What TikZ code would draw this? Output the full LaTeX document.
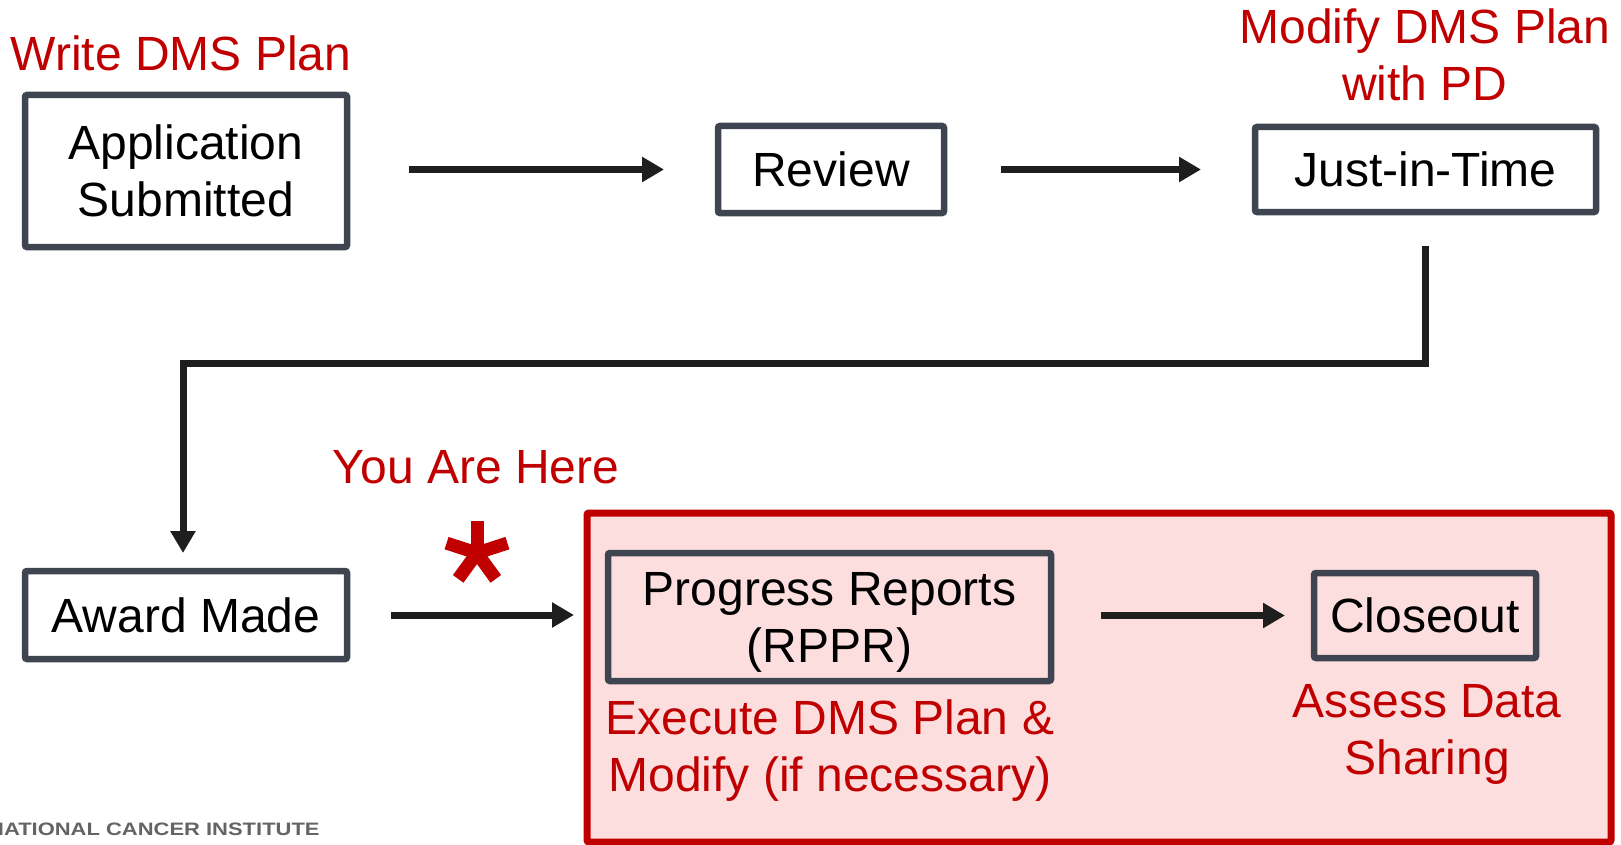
\documentclass[tikz,border=0pt]{standalone}
\usepackage{graphicx}
\usepackage{fontspec}
\setmainfont{Liberation Sans}
\usetikzlibrary{arrows.meta}
\definecolor{boxgray}{RGB}{62,69,81}
\definecolor{arrowblk}{RGB}{30,30,30}
\definecolor{dmsred}{RGB}{192,0,0}
\definecolor{pinkfill}{RGB}{253,222,222}
\definecolor{ncigray}{RGB}{100,100,100}
\begin{document}
\begin{tikzpicture}[x=1pt,y=-1pt,
  stepbox/.style={draw=boxgray, line width=6.5pt, rounded corners=2pt, inner sep=0pt, outer sep=0pt,
    font=\fontsize{48pt}{57pt}\selectfont, align=center, text=black},
  arr/.style={draw=arrowblk, line width=7pt, -{Triangle[length=22pt,width=24pt]}},
  redlbl/.style={text=dmsred, font=\fontsize{48pt}{57pt}\selectfont, align=center, inner sep=0pt},
]
\clip (0,0) rectangle (1621,845);
\fill[white] (0,0) rectangle (1621,845);

% highlighted region
\node[draw=dmsred, fill=pinkfill, line width=7pt, rounded corners=2pt, minimum width=1024pt,
  minimum height=329pt, inner sep=0pt, outer sep=0pt] (region) at (1099,677.5) {};

% boxes
\node[stepbox, minimum width=322pt, minimum height=152pt] (app) at (186,171) {Application\\Submitted};
\node[stepbox, minimum width=226pt, minimum height=87pt] (rev) at (831,169.5) {Review};
\node[stepbox, minimum width=341pt, minimum height=85pt] (jit) at (1425.5,169.5) {Just-in-Time};
\node[stepbox, minimum width=322pt, minimum height=88pt] (award) at (186,615) {Award Made};
\node[stepbox, fill=pinkfill, minimum width=443pt, minimum height=128pt] (prog) at (829.5,617) {\rule{0pt}{44pt}Progress Reports\\(RPPR)};
\node[stepbox, fill=pinkfill, minimum width=222pt, minimum height=85pt] (close) at (1425,615.5) {Closeout};

% connectors
\draw[arr, shorten <=62pt, shorten >=54pt] (app.east |- rev.west) -- (rev.west);
\draw[arr, shorten <=57pt, shorten >=54pt] (rev.east) -- (jit.west);
\draw[arr, shorten <=34pt, shorten >=18pt] (jit.south) -- ++(0,151) -| ([xshift=-3pt]award.north);
\draw[arr, shorten <=44pt, shorten >=13pt] (award.east) -- (award.east -| region.west);
\draw[arr, shorten <=50pt, shorten >=29pt] (prog.east |- close.west) -- (close.west);

% red labels (base anchor = baseline of the last line)
\node[redlbl, anchor=base] (write) at (181,71) {Write DMS Plan};
\node[redlbl, anchor=base] (modify) at (1425,101) {Modify DMS Plan\\with PD};
\node[redlbl, anchor=base] (here) at (476,483) {You Are Here};
\node[redlbl, anchor=base] (exec) at (830,791) {Execute DMS Plan \&\\Modify (if necessary)};
\node[redlbl, anchor=base] (assess) at (1427,774) {Assess Data\\Sharing};

% asterisk
\coordinate (star) at (477,553);
\foreach \a in {-90,-18,-162,54,126} \draw[dmsred, line width=13pt] (star) -- ++(\a:32);
\fill[dmsred] (star) circle (8);

% footer
\node[anchor=base west, inner sep=0pt, text=ncigray, font=\fontsize{18pt}{20pt}\selectfont\bfseries] (nci)
  at (-12,835) {\scalebox{1.22}[1]{NATIONAL CANCER INSTITUTE}};
\end{tikzpicture}
\end{document}
